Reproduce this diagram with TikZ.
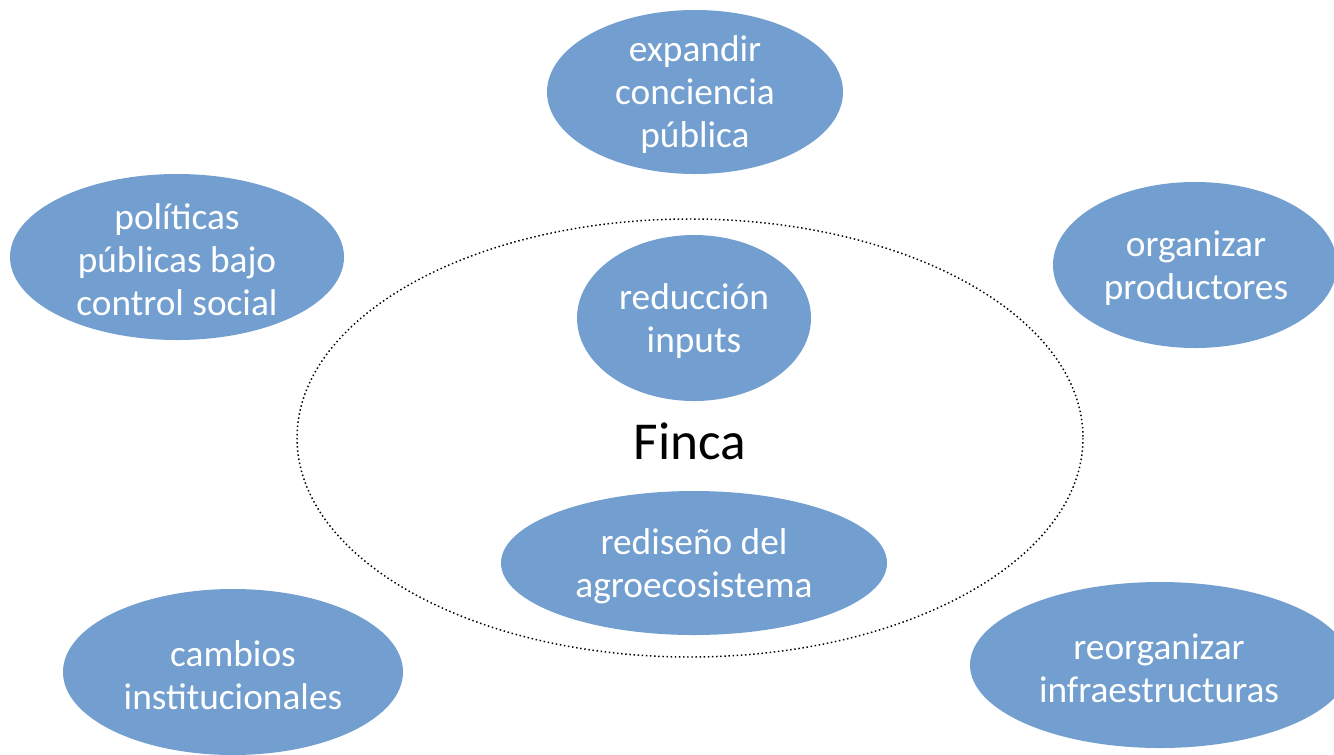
\documentclass[tikz,border=0pt]{standalone}
\usepackage{fontspec}
\setmainfont{Carlito}
\definecolor{blob}{HTML}{729FCF}
\begin{document}
\begin{tikzpicture}[x=0.75pt,y=-0.75pt,
  lbl/.style={text=white,align=center,font=\fontsize{28pt}{32.25pt}\selectfont,inner sep=0pt}]
\useasboundingbox (0,0) rectangle (1334,754);
\fill[white] (0,0) rectangle (1334,754);
% outer dotted ellipse
\draw[black,line width=1.1pt,dotted] (690,438) ellipse [x radius=393, y radius=219];
\node[font=\fontsize{40pt}{46pt}\selectfont,inner sep=0pt] (finca) at (690,441) {Finca};
% blobs
\fill[blob] (695,92) ellipse [x radius=148, y radius=82];
\node[lbl] (expandir) at (695,95) {expandir\\conciencia\\pública};
\fill[blob] (177,257) ellipse [x radius=167, y radius=83];
\node[lbl] (politicas) at (177,260) {políticas\\públicas bajo\\control social};
\fill[blob] (1195,265) ellipse [x radius=142, y radius=83];
\node[lbl] (organizar) at (1196,268) {organizar\\productores};
\fill[blob] (694,318) ellipse [x radius=117, y radius=83];
\node[lbl] (reduccion) at (694,321) {reducción\\inputs};
\fill[blob] (694,563) ellipse [x radius=193, y radius=72];
\node[lbl] (rediseno) at (694,566) {rediseño del\\agroecosistema};
\fill[blob] (233,672) ellipse [x radius=170, y radius=83];
\node[lbl] (cambios) at (233,675) {cambios\\institucionales};
\fill[blob] (1160,665) ellipse [x radius=190, y radius=83];
\node[lbl] (reorganizar) at (1159,668) {reorganizar\\infraestructuras};
\end{tikzpicture}
\end{document}
